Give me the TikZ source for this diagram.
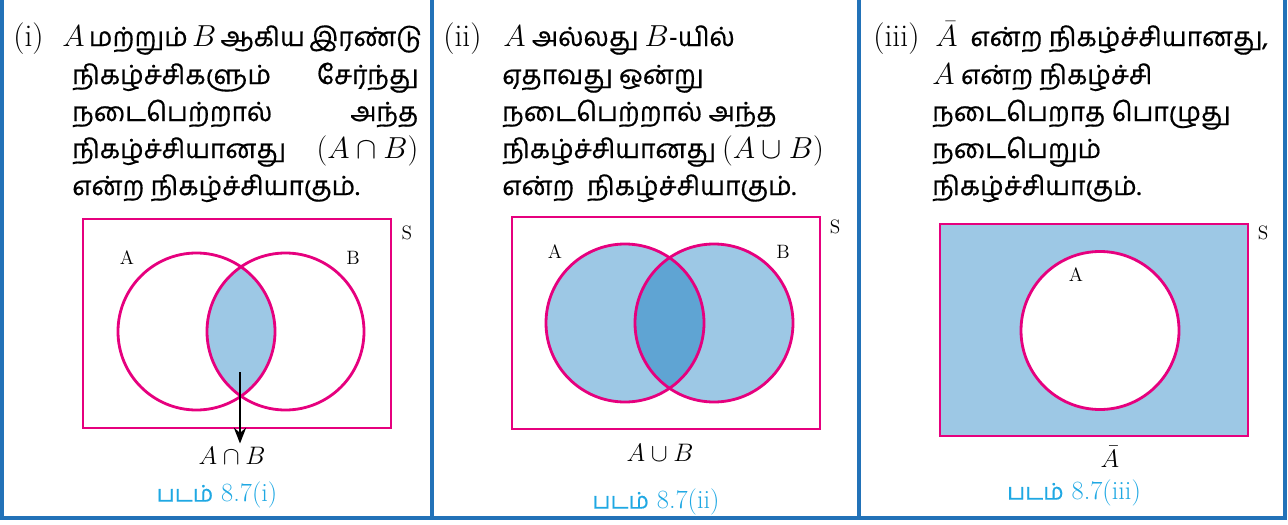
\documentclass[tikz,border=0pt]{standalone}
\usepackage{fontspec}
\newfontfamily\tamil[Script=Tamil,FakeBold=0.6]{Hind Madurai}
\usetikzlibrary{arrows.meta}
\definecolor{panelblue}{HTML}{2272B8}
\definecolor{vennpink}{HTML}{E6007E}
\definecolor{setblue}{HTML}{9DC8E5}
\definecolor{bothblue}{HTML}{5FA4D3}
\definecolor{capblue}{HTML}{1FA8E3}
\begin{document}
\begin{tikzpicture}[x=0.02cm,y=-0.02cm,
  txt/.style={anchor=base west,inner sep=0pt,font=\tamil\fontsize{15}{21}\selectfont},
  num/.style={anchor=base west,inner sep=0pt,font=\rmfamily\fontsize{18}{21}\selectfont},
  venn/.style={draw=vennpink,line width=1.6pt},
  lbl/.style={inner sep=0pt,font=\rmfamily\fontsize{11}{13}\selectfont},
  setlbl/.style={inner sep=0pt,font=\rmfamily\fontsize{14}{16}\selectfont},
  figcap/.style={inner sep=0pt,text=capblue,font=\rmfamily\fontsize{15}{17}\selectfont}]
  \useasboundingbox (0,0) rectangle (1288,524);
  % panel frames
  \draw[panelblue,line width=1.8pt] (2,0) -- (2,518) -- (1285,518) -- (1285,0);
  \draw[panelblue,line width=1.8pt] (432,0) -- (432,518);
  \draw[panelblue,line width=1.8pt] (859,0) -- (859,518);
  % (i)
  \node[num] (no1) at (13,46) {(i)};
  \node[txt] (p1a) at (62,46) {\makebox[7.12cm][s]{\mbox{\fontsize{18}{21}\selectfont$A$} மற்றும் \mbox{\fontsize{18}{21}\selectfont$B$} ஆகிய இரண்டு}};
  \node[txt] (p1b) at (72,84) {\makebox[6.92cm][s]{நிகழ்ச்சிகளும் சேர்ந்து}};
  \node[txt] (p1c) at (72,121) {\makebox[6.92cm][s]{நடைபெற்றால் அந்த}};
  \node[txt] (p1d) at (72,158) {\makebox[6.92cm][s]{நிகழ்ச்சியானது \mbox{\fontsize{18}{21}\selectfont$(A\cap B)$}}};
  \node[txt] (p1e) at (72,195) {என்ற நிகழ்ச்சியாகும்.};
  \begin{scope}
    \clip (196.5,331.5) circle[radius=78.5];
    \fill[setblue] (285.5,331.5) circle[radius=78.5];
  \end{scope}
  \draw[venn] (83,219) rectangle (391,428);
  \draw[venn] (196.5,331.5) circle[radius=78.5];
  \draw[venn] (285.5,331.5) circle[radius=78.5];
  \node[lbl] (A1) at (127,258) {A};
  \node[lbl] (B1) at (353,258) {B};
  \node[lbl] (S1) at (407,233) {S};
  \coordinate (meet1) at (240,372);
  \node[setlbl] (AcapB) at (232,456) {$A\cap B$};
  \draw[-{Stealth[length=9pt,width=7pt]},line width=1.2pt,shorten >=2pt] (meet1) -- (meet1 |- AcapB.north);
  \node[figcap] (cap1) at (217,495) {{\tamil\fontsize{13}{15}\selectfont படம்} 8.7(i)};
  % (ii)
  \node[num] (no2) at (443,46) {(ii)};
  \node[txt] (p2a) at (503,46) {{\fontsize{18}{21}\selectfont$A$} அல்லது {\fontsize{18}{21}\selectfont$B$}-யில்};
  \node[txt] (p2b) at (502,84) {ஏதாவது ஒன்று};
  \node[txt] (p2c) at (502,121) {நடைபெற்றால் அந்த};
  \node[txt] (p2d) at (502,158) {நிகழ்ச்சியானது {\fontsize{18}{21}\selectfont$(A\cup B)$}};
  \node[txt] (p2e) at (502,195) {என்ற\ \ நிகழ்ச்சியாகும்.};
  \fill[setblue] (625,323) circle[radius=79];
  \fill[setblue] (714,323) circle[radius=79];
  \begin{scope}
    \clip (625,323) circle[radius=79];
    \fill[bothblue] (714,323) circle[radius=79];
  \end{scope}
  \draw[venn] (512,217) rectangle (820,429);
  \draw[venn] (625,323) circle[radius=79];
  \draw[venn] (714,323) circle[radius=79];
  \node[lbl] (A2) at (555,252) {A};
  \node[lbl] (B2) at (783,252) {B};
  \node[lbl] (S2) at (835,227) {S};
  \node[setlbl] (AcupB) at (660,453) {$A\cup B$};
  \node[figcap] (cap2) at (656,502) {{\tamil\fontsize{13}{15}\selectfont படம்} 8.7(ii)};
  % (iii)
  \node[num] (no3) at (873,46) {(iii)};
  \node[txt] (p3a) at (935,46) {{\fontsize{18}{21}\selectfont$\bar{A}$}\ \ என்ற நிகழ்ச்சியானது,};
  \node[txt] (p3b) at (932,84) {{\fontsize{18}{21}\selectfont$A$} என்ற நிகழ்ச்சி};
  \node[txt] (p3c) at (932,121) {நடைபெறாத பொழுது};
  \node[txt] (p3d) at (932,158) {நடைபெறும்};
  \node[txt] (p3e) at (932,195) {நிகழ்ச்சியாகும்.};
  \fill[setblue] (940,224) rectangle (1248,436);
  \fill[white] (1100,330.5) circle[radius=79];
  \draw[venn] (940,224) rectangle (1248,436);
  \draw[venn] (1100,330.5) circle[radius=79];
  \node[lbl] (A3) at (1076,275) {A};
  \node[lbl] (S3) at (1263,233) {S};
  \node[setlbl] (Abar) at (1110,457) {$\bar{A}$};
  \node[figcap] (cap3) at (1074,493) {{\tamil\fontsize{13}{15}\selectfont படம்} 8.7(iii)};
\end{tikzpicture}
\end{document}
